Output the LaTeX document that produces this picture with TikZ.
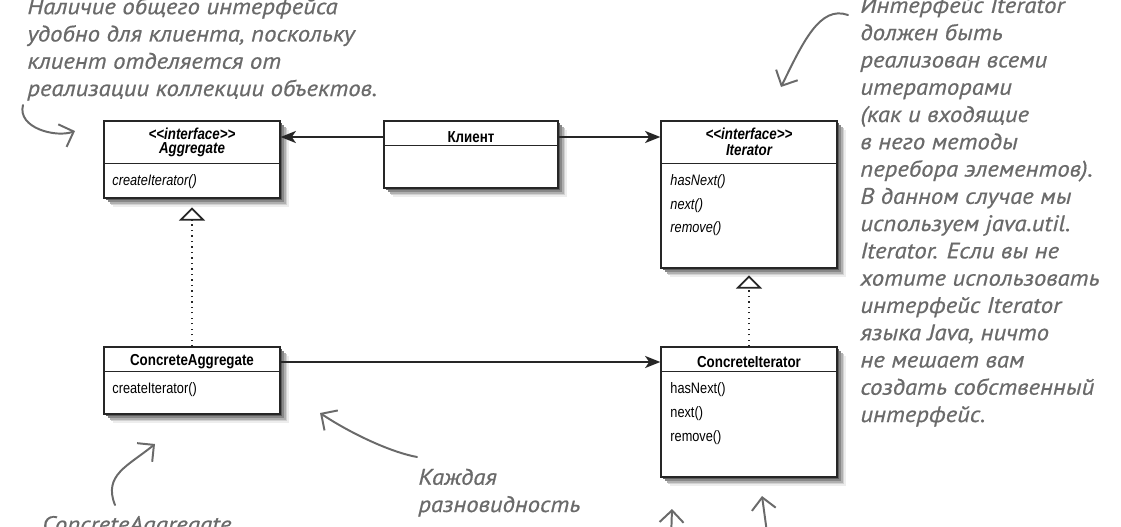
\documentclass[tikz,border=0pt]{standalone}
\usepackage{fontspec}
\setmainfont{Liberation Sans}[FakeStretch=0.84]
\newfontfamily\handfont{PT Sans}[FakeStretch=1.1,FakeBold=0.6]
\usetikzlibrary{positioning,arrows.meta}

\definecolor{linegray}{HTML}{262626}
\definecolor{notegray}{HTML}{6A6A6A}
\definecolor{shadeA}{HTML}{EDEDED}
\definecolor{shadeB}{HTML}{D2D2D2}
\definecolor{shadeC}{HTML}{B0B0B0}
\definecolor{shadeD}{HTML}{888888}
\definecolor{shadeE}{HTML}{5E5E5E}

\begin{document}
\begin{tikzpicture}[
  >={Stealth[length=3.8mm,width=3mm,inset=1mm]},
  semithick
]
  \tikzstyle{class}=[draw=linegray,line width=0.9pt,fill=white,inner sep=0pt]
  \tikzstyle{sep}=[draw=linegray,line width=0.9pt]
  \tikzstyle{title}=[font=\fontsize{11.3}{12}\selectfont\bfseries,inner sep=0pt]
  \tikzstyle{stereo}=[font=\fontsize{11.3}{12}\selectfont\bfseries\itshape,inner sep=0pt]
  \tikzstyle{method}=[font=\fontsize{10.8}{12}\selectfont,anchor=west,inner sep=0pt]
  \tikzstyle{imethod}=[font=\fontsize{10.8}{12}\selectfont\itshape,anchor=west,inner sep=0pt]
  \tikzstyle{assoc}=[->,draw=linegray,line width=1.6pt]
  \tikzstyle{realize}=[-{Triangle[open,width=6.5mm,length=3.3mm,line width=1.2pt]},
    draw=linegray,line width=0.9pt,dash pattern=on 0.9pt off 3pt]
  \tikzstyle{note}=[font=\handfont\itshape\fontsize{16}{19.4}\selectfont,text=notegray,
    align=left,anchor=base west,inner sep=0pt]
  \tikzstyle{pointer}=[draw=notegray,line width=1.4pt,line cap=round,
    -{Straight Barb[length=3mm,width=6mm,line width=1.4pt]}]

  \useasboundingbox (0,0) rectangle (28.025,13.15);
  \clip (0,0) rectangle (28.025,13.15);

  % Soft shadows (drawn first, boxes go on top)
  \foreach \sd/\sc in {0.22/shadeA,0.18/shadeB,0.14/shadeC,0.10/shadeD,0.06/shadeE}
    \foreach \bx/\by/\bw/\bh in {4.8/9.1625/4.4/1.925, 11.775/9.2875/4.35/1.675,
        18.725/8.2875/4.4/3.675, 4.8/3.6375/4.4/1.675, 18.725/2.85/4.4/3.25}
      \fill[\sc] (\bx-\bw/2+\sd,\by-\bh/2-\sd) rectangle (\bx+\bw/2+\sd,\by+\bh/2-\sd);

  % Classes (top row: interfaces and client)
  \node[class, minimum width=4.4cm,  minimum height=1.925cm] (agg)  at (4.8,9.1625)    {};
  \node[class, minimum width=4.35cm, minimum height=1.675cm] (cli)  at (11.775,9.2875) {};
  \node[class, minimum width=4.4cm,  minimum height=3.675cm] (itr)  at (18.725,8.2875) {};

  % Concrete classes (bottom row)
  \node[class, minimum width=4.4cm,  minimum height=1.675cm] (cagg) at (4.8,3.6375)    {};
  \node[class, minimum width=4.4cm,  minimum height=3.25cm]  (citr) at (18.725,2.85)   {};

  % Compartment lines
  \draw[sep] ([yshift=-1.075cm]agg.north west)  -- ([yshift=-1.075cm]agg.north east);
  \draw[sep] ([yshift=-0.625cm]cli.north west)  -- ([yshift=-0.625cm]cli.north east);
  \draw[sep] ([yshift=-1.075cm]itr.north west)  -- ([yshift=-1.075cm]itr.north east);
  \draw[sep] ([yshift=-0.625cm]cagg.north west) -- ([yshift=-0.625cm]cagg.north east);
  \draw[sep] ([yshift=-0.625cm]citr.north west) -- ([yshift=-0.625cm]citr.north east);

  % Names
  \node[stereo] (aggS)  at (4.8,9.8)     {\textless\kern0pt\textless interface\textgreater\kern0pt\textgreater};
  \node[stereo] (aggT)  at (4.8,9.4)     {Aggregate};
  \node[title]  (cliT)  at (11.775,9.725) {Клиент};
  \node[stereo] (itrS)  at (18.725,9.8)  {\textless\kern0pt\textless interface\textgreater\kern0pt\textgreater};
  \node[stereo] (itrT)  at (18.725,9.4)  {Iterator};
  \node[title]  (caggT) at (4.8,4.1)     {ConcreteAggregate};
  \node[title]  (citrT) at (18.725,4.1)  {ConcreteIterator};

  % Methods
  \node[imethod] (aggM)  at (2.8,8.6)    {createIterator()};
  \node[imethod] (itrM1) at (16.75,8.6)  {hasNext()};
  \node[imethod] (itrM2) at (16.75,8.0)  {next()};
  \node[imethod] (itrM3) at (16.75,7.425) {remove()};
  \node[method]  (caggM) at (2.8,3.4)    {createIterator()};
  \node[method]  (citrM1) at (16.75,3.4) {hasNext()};
  \node[method]  (citrM2) at (16.75,2.8) {next()};
  \node[method]  (citrM3) at (16.75,2.2) {remove()};

  % Associations
  \draw[assoc] (cli.west |- cliT) -- (agg.east |- cliT);
  \draw[assoc] (cli.east |- cliT) -- (itr.west |- cliT);
  \draw[assoc] (cagg.east |- caggT) -- (citr.west |- caggT);

  % Realizations
  \draw[realize, shorten >=2.2mm] (cagg.north) -- (agg.south);
  \draw[realize, shorten >=1.7mm] (citr.north) -- (itr.south);

  % Notes (anchored at the baseline of their last line)
  \node[note] (noteL) at (0.675,10.75) {Наличие общего интерфейса\\удобно для клиента, поскольку\\клиент отделяется от\\реализации коллекции объектов.};
  \node[note] (noteR) at (21.5,2.6) {Интерфейс Iterator\\должен быть\\реализован всеми\\итераторами\\(как и входящие\\в него методы\\перебора элементов).\\В данном случае мы\\используем java.util.\\Iterator. Если вы не\\хотите использовать\\интерфейс Iterator\\языка Java, ничто\\не мешает вам\\создать собственный\\интерфейс.};
  \node[note] (noteM) at (10.45,0.35) {Каждая\\разновидность};
  \node[note] (noteB) at (1.05,-0.15) {ConcreteAggregate};

  % Pointers from the notes
  \coordinate (n1a) at (0.575,10.525);
  \coordinate (n1b) at (1.875,9.875);
  \coordinate (n2a) at (21.2,12.775);
  \coordinate (n2b) at (19.525,10.975);
  \coordinate (n3a) at (2.875,0.525);
  \coordinate (n3b) at (3.875,2.05);
  \coordinate (n4a) at (10.425,1.725);
  \coordinate (n4b) at (8.0,2.825);
  \coordinate (n5a) at (16.775,-0.35);
  \coordinate (n5b) at (16.8,0.425);
  \coordinate (n6a) at (19.2,-0.35);
  \coordinate (n6b) at (19.05,0.75);

  \draw[pointer] (n1a) .. controls (0.425,9.95) and (1.4,9.7) .. (n1b);
  \draw[pointer] (n2a) .. controls (20.5,13.025) and (20.075,12.1) .. (n2b);
  \draw[pointer] (n3a) .. controls (2.575,1.275) and (3.2,1.5) .. (n3b);
  \draw[pointer] (n4a) .. controls (9.75,1.85) and (8.75,2.325) .. (n4b);
  \draw[pointer] (n5a) -- (n5b);
  \draw[pointer] (n6a) -- (n6b);
\end{tikzpicture}
\end{document}
